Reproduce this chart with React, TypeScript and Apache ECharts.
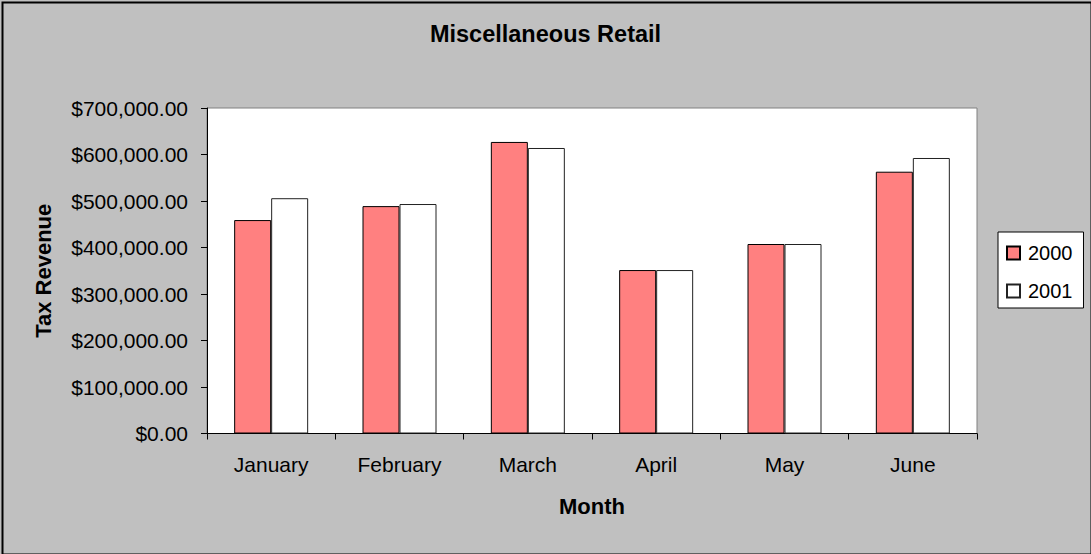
import React, { useEffect, useRef } from "react";
import * as echarts from "echarts";

const months = ["January", "February", "March", "April", "May", "June"];
const series2000 = [459000, 489000, 627000, 351500, 407500, 563000];
const series2001 = [506000, 493500, 614000, 351500, 407500, 592500];
const seriesNames = ["2000", "2001"];
const titleText = "Miscellaneous Retail";
const xName = "Month";
const yName = "Tax Revenue";

const FONT = "'Liberation Sans', Arial, sans-serif";

function fmt(v: number): string {
  return "$" + v.toLocaleString("en-US", { minimumFractionDigits: 2, maximumFractionDigits: 2 });
}

export default function App() {
  const ref = useRef<HTMLDivElement>(null);
  useEffect(() => {
    document.body.style.margin = "0";
    const chart = echarts.init(ref.current!, null, { renderer: "svg" });
    chart.setOption({
      animation: false,
      backgroundColor: "#C0C0C0",
      textStyle: { fontFamily: FONT },
      title: {
        text: titleText,
        left: "center",
        top: 17,
        textStyle: { fontFamily: FONT, fontSize: 23.5, fontWeight: "bold", color: "#000" },
      },
      legend: {
        orient: "vertical",
        left: 998,
        top: 232,
        padding: [11, 11, 7, 8],
        itemGap: 18,
        itemWidth: 13,
        itemHeight: 13,
        icon: "rect",
        backgroundColor: "#fff",
        borderColor: "#000",
        borderWidth: 1,
        borderRadius: 0,
        textStyle: { fontFamily: FONT, fontSize: 20, color: "#000", lineHeight: 20, padding: [0, 0, 0, 3] },
        data: seriesNames,
      },
      grid: {
        left: 207,
        right: 114,
        top: 108,
        bottom: 120.5,
        show: true,
        backgroundColor: "#fff",
        borderColor: "#808080",
        borderWidth: 1,
      },
      xAxis: {
        type: "category",
        data: months,
        name: xName,
        nameLocation: "middle",
        nameGap: 62,
        nameTextStyle: { fontFamily: FONT, fontSize: 22, fontWeight: "bold", color: "#000" },
        axisLine: { lineStyle: { color: "#000", width: 1 } },
        axisTick: { show: true, length: 6, lineStyle: { color: "#000" } },
        axisLabel: { fontFamily: FONT, fontSize: 21, color: "#000", margin: 20 },
      },
      yAxis: {
        type: "value",
        min: 0,
        max: 700000,
        interval: 100000,
        name: yName,
        nameLocation: "middle",
        nameRotate: 90,
        nameGap: 153,
        nameTextStyle: { fontFamily: FONT, fontSize: 22, fontWeight: "bold", color: "#000" },
        axisLine: { show: true, lineStyle: { color: "#000", width: 1 } },
        axisTick: { show: true, length: 6, lineStyle: { color: "#000" } },
        splitLine: { show: false },
        axisLabel: { fontFamily: FONT, fontSize: 21, color: "#000", margin: 19, formatter: fmt },
      },
      series: [
        {
          name: seriesNames[0],
          type: "bar",
          data: series2000,
          barWidth: 37,
          barGap: "0%",
          itemStyle: { color: "#FF8080", borderColor: "#000", borderWidth: 1 },
        },
        {
          name: seriesNames[1],
          type: "bar",
          data: series2001,
          barWidth: 37,
          barGap: "0%",
          itemStyle: { color: "#FFFFFF", borderColor: "#222", borderWidth: 1 },
        },
      ],
      graphic: [
        {
          type: "rect",
          left: 0,
          top: 0,
          shape: { x: 1, y: 1, width: 1089, height: 552 },
          style: { fill: "none", stroke: "#000", lineWidth: 2 },
          silent: true,
          z: 100,
        },
      ],
    });
    return () => chart.dispose();
  }, []);
  return (
    <div
      ref={ref}
      style={{ position: "absolute", left: 0, top: 0, width: 1091, height: 554 }}
    />
  );
}
